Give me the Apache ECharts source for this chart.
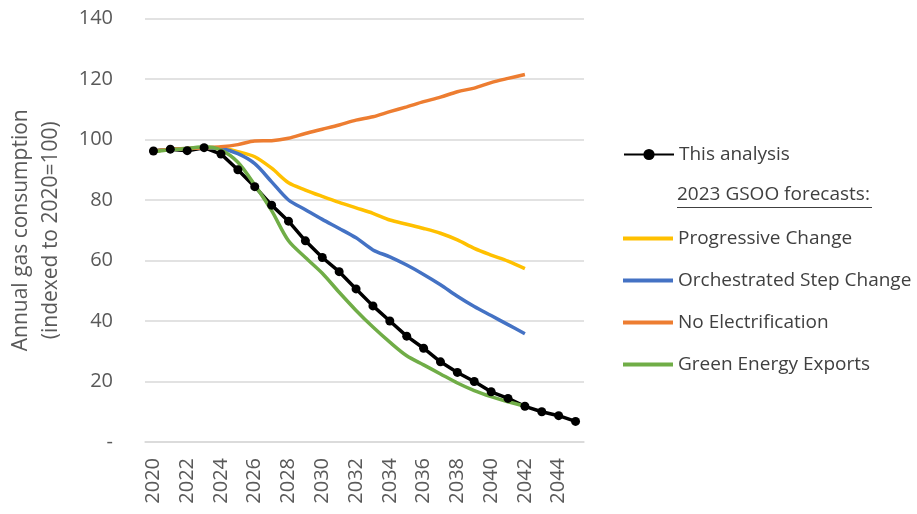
<!DOCTYPE html>
<html>
<head>
<meta charset="utf-8">
<script src="https://cdn.jsdelivr.net/npm/echarts@6/dist/echarts.min.js"></script>
<style>
  html, body { margin: 0; padding: 0; background: #fff; }
  #chart { width: 917px; height: 514px; }
</style>
</head>
<body>
<div id="chart"></div>
<script>
// years on the x axis
const years = [];
for (let y = 2020; y <= 2045; y++) years.push(String(y));

// values (index, 2020 = 100)
const thisAnalysis = [96.2, 96.8, 96.3, 97.3, 95.2, 90, 84.4, 78.3, 73, 66.5, 61, 56.3, 50.6, 45, 40, 35, 31, 26.5, 23, 20, 16.6, 14.4, 11.8, 10, 8.7, 6.8];
const progressiveChange = [96.2, 96.8, 97, 97.3, 97.2, 96, 94.3, 90.5, 85.7, 83.3, 81.2, 79.2, 77.4, 75.6, 73.4, 72, 70.6, 69, 66.8, 64, 61.8, 59.8, 57.3];
const orchestratedStep = [96.2, 96.8, 97, 97.3, 97, 95.3, 92, 86, 80, 76.8, 73.6, 70.6, 67.5, 63.5, 61.2, 58.5, 55.4, 52, 48.2, 44.8, 41.8, 38.8, 35.8];
const noElectrification = [96.2, 96.8, 97, 97.3, 97.6, 98.3, 99.5, 99.6, 100.4, 102, 103.4, 104.8, 106.4, 107.5, 109.2, 110.8, 112.5, 114, 115.8, 117, 118.8, 120.2, 121.5];
const greenExports = [96, 96.6, 97, 97.6, 96.5, 92.5, 85, 76.5, 66.5, 61, 55.8, 49.5, 43.5, 38, 33, 28.5, 25.5, 22.5, 19.5, 17, 15, 13.3, 11.8];

const font = "Open Sans";
const grey = "#595959";

const chart = echarts.init(document.getElementById("chart"));

function line(name, data, color) {
  return {
    name: name,
    type: "line",
    data: data,
    smooth: 0.3,
    symbol: "none",
    lineStyle: { color: color, width: 3.5 },
    itemStyle: { color: color }
  };
}

chart.setOption({
  animation: false,
  textStyle: { fontFamily: font },
  grid: { left: 145, right: 333, top: 18.5, bottom: 72, outerBoundsMode: "none", containLabel: false },
  xAxis: {
    type: "category",
    data: years,
    boundaryGap: true,
    axisLine: { lineStyle: { color: "#d9d9d9", width: 1.5 } },
    axisTick: { show: false },
    axisLabel: { rotate: 90, interval: 1, margin: 16, fontSize: 20, color: grey, fontFamily: font }
  },
  yAxis: {
    type: "value",
    min: 0,
    max: 140,
    interval: 20,
    name: "Annual gas consumption\n(indexed to 2020=100)",
    nameLocation: "middle",
    nameGap: 79,
    nameTextStyle: { fontSize: 21, color: grey, lineHeight: 30, fontFamily: font },
    axisLine: { show: false },
    axisTick: { show: false },
    splitLine: { lineStyle: { color: "#d9d9d9", width: 1.5 } },
    axisLabel: {
      margin: 32, fontSize: 20, color: grey, fontFamily: font,
      formatter: v => (v === 0 ? "-" : v)
    }
  },
  legend: [
    {
      data: ["This analysis"],
      orient: "vertical",
      left: 618,
      top: 140,
      itemWidth: 50,
      itemHeight: 14,
      textStyle: { fontSize: 19, color: "#404040", fontFamily: font }
    },
    {
      data: ["Progressive Change", "Orchestrated Step Change", "No Electrification", "Green Energy Exports"],
      orient: "vertical",
      left: 618,
      top: 224,
      itemGap: 23,
      itemWidth: 50,
      itemHeight: 4,
      icon: "rect",
      textStyle: { fontSize: 19, color: "#404040", fontFamily: font, lineHeight: 18 }
    }
  ],
  graphic: [
    {
      type: "text",
      left: 677,
      top: 185,
      style: { text: "2023 GSOO forecasts:", fontSize: 19, fill: "#404040", fontFamily: font }
    },
    {
      type: "line",
      shape: { x1: 677, y1: 207.5, x2: 872, y2: 207.5 },
      style: { stroke: "#404040", lineWidth: 1 }
    }
  ],
  series: [
    {
      name: "This analysis",
      type: "line",
      data: thisAnalysis,
      symbol: "circle",
      symbolSize: 9,
      lineStyle: { color: "#000", width: 3.5 },
      itemStyle: { color: "#000" }
    },
    line("Progressive Change", progressiveChange, "#FFC000"),
    line("Orchestrated Step Change", orchestratedStep, "#4472C4"),
    line("No Electrification", noElectrification, "#ED7D31"),
    line("Green Energy Exports", greenExports, "#70AD47")
  ]
});

window.addEventListener("resize", () => chart.resize());
</script>
</body>
</html>
